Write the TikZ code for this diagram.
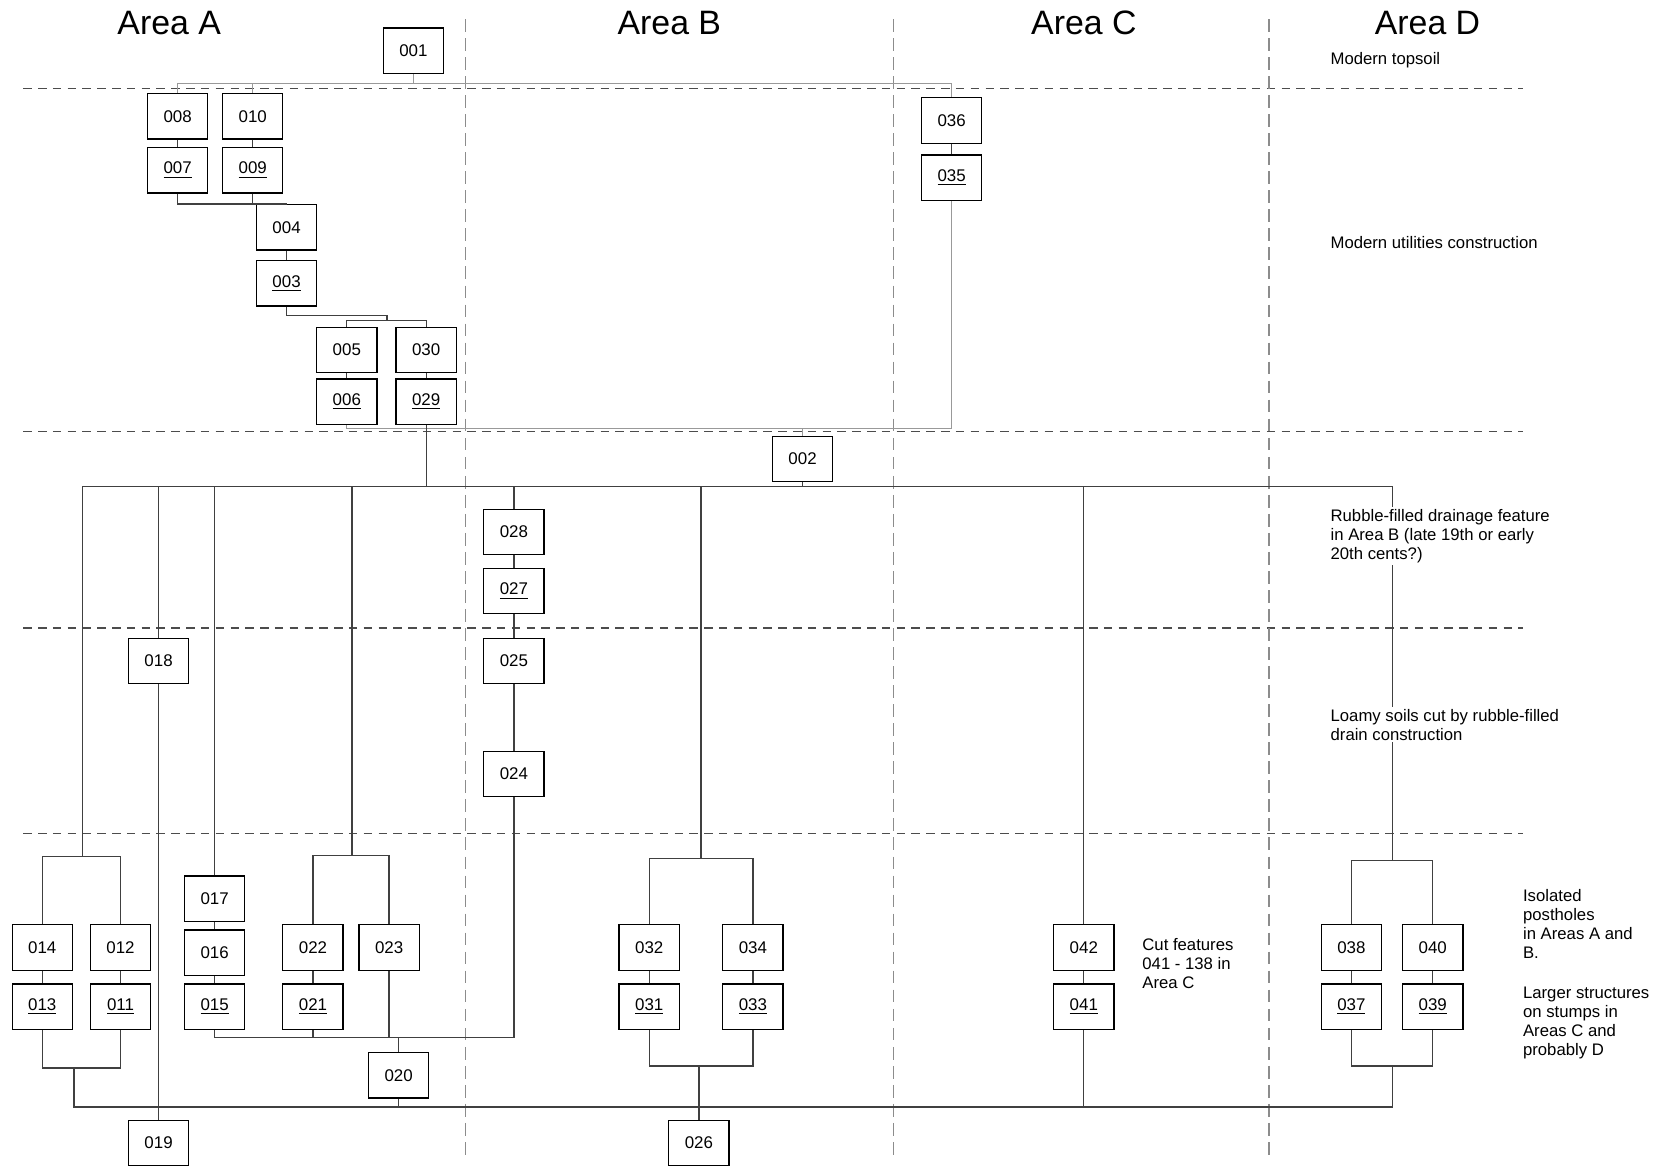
\documentclass[tikz,border=0pt]{standalone}
\usepackage{fontspec}
\setmainfont{Liberation Sans}
\usetikzlibrary{positioning}
\tikzset{
  ctx/.style = {draw=black, line width=0.6pt, rectangle, fill=white, minimum width=28.5pt, minimum height=21.5pt, inner sep=0pt, font=\fontsize{8}{9.6}\selectfont},
  link/.style = {draw=black!75, line width=0.6pt},
  util/.style = {draw=black!40, line width=0.6pt},
  phaseline/.style = {draw=black!70, line width=0.6pt, dash pattern=on 4pt off 3pt},
  arealine/.style = {draw=black!45, line width=0.6pt, dash pattern=on 6pt off 3pt},
  areatitle/.style = {font=\fontsize{16}{19}\selectfont},
  remark/.style = {anchor=north west, align=left, fill=white, inner sep=1pt, font=\fontsize{7.9}{9}\selectfont}
}

\begin{document}
\begin{tikzpicture}[x=0.5pt, y=-0.5pt]
            \useasboundingbox (0,0) rectangle (1568,1104);
            % phases and areas
            \foreach \yy in {84,408,594,788}
              \draw[phaseline] (22,\yy) -- (1440,\yy);
            \foreach \xx in {440,845,1200}
              \draw[arealine] (\xx,18) -- (\xx,1095);
            \node[areatitle] (tA) at (160,22) {Area A};
            \node[areatitle] (tB) at (633,22) {Area B};
            \node[areatitle] (tC) at (1025,22) {Area C};
            \node[areatitle] (tD) at (1350,22) {Area D};

            % contexts
            \node[ctx] (c001) at (391,48) {001};
            \node[ctx] (c008) at (168,110) {008};
            \node[ctx] (c010) at (239,110) {010};
            \node[ctx] (c007) at (168,161) {\underline{007}};
            \node[ctx] (c009) at (239,161) {\underline{009}};
            \node[ctx] (c004) at (271,215) {004};
            \node[ctx] (c003) at (271,268) {\underline{003}};
            \node[ctx] (c005) at (328,331) {005};
            \node[ctx] (c030) at (403,331) {030};
            \node[ctx] (c006) at (328,380) {\underline{006}};
            \node[ctx] (c029) at (403,380) {\underline{029}};
            \node[ctx] (c036) at (900,114) {036};
            \node[ctx] (c035) at (900,168) {\underline{035}};
            \node[ctx] (c002) at (759,434) {002};
            \node[ctx] (c028) at (486,503) {028};
            \node[ctx] (c027) at (486,559) {\underline{027}};
            \node[ctx] (c025) at (486,625) {025};
            \node[ctx] (c024) at (486,732) {024};
            \node[ctx] (c018) at (150,625) {018};
            \node[ctx] (c017) at (203,850) {017};
            \node[ctx] (c016) at (203,901) {016};
            \node[ctx] (c015) at (203,952) {\underline{015}};
            \node[ctx] (c014) at (40,896) {014};
            \node[ctx] (c012) at (114,896) {012};
            \node[ctx] (c013) at (40,952) {\underline{013}};
            \node[ctx] (c011) at (114,952) {\underline{011}};
            \node[ctx] (c022) at (296,896) {022};
            \node[ctx] (c023) at (368,896) {023};
            \node[ctx] (c021) at (296,952) {\underline{021}};
            \node[ctx] (c020) at (377,1017) {020};
            \node[ctx] (c019) at (150,1081) {019};
            \node[ctx] (c032) at (614,896) {032};
            \node[ctx] (c034) at (712,896) {034};
            \node[ctx] (c031) at (614,952) {\underline{031}};
            \node[ctx] (c033) at (712,952) {\underline{033}};
            \node[ctx] (c026) at (661,1081) {026};
            \node[ctx] (c042) at (1025,896) {042};
            \node[ctx] (c041) at (1025,952) {\underline{041}};
            \node[ctx] (c038) at (1278,896) {038};
            \node[ctx] (c040) at (1355,896) {040};
            \node[ctx] (c037) at (1278,952) {\underline{037}};
            \node[ctx] (c039) at (1355,952) {\underline{039}};

            % junctions
            \coordinate (top) at (391,79);
            \coordinate (j003) at (366,303);
            \coordinate (low) at (900,405);
            \coordinate (busl) at (78,460);
            \coordinate (busr) at (1317,460);
            \coordinate (k014) at (78,810);
            \coordinate (k022) at (333,809);
            \coordinate (k032) at (663,812);
            \coordinate (k038) at (1317,814);
            \coordinate (m020) at (377,981);
            \coordinate (p013) at (70,1010);
            \coordinate (p031) at (661,1008);
            \coordinate (p037) at (1317,1008);
            \coordinate (basel) at (70,1047);
            \coordinate (baser) at (1317,1047);

            % modern
            \draw[util] (c001) -- (top);
            \draw[util] (c008) |- (top) -| (c036);
            \draw[util] (c010) -- (c010 |- top);
            \draw[link] (c008) -- (c007);
            \draw[link] (c010) -- (c009);
            \draw[link] (c036) -- (c035);
            \draw[link] (c007) |- (c004.north);
            \draw[link] (c009) -- (c009 |- c004.north);
            \draw[link] (c004) -- (c003);
            \draw[link] (c003.south) -- ++(0,8) -| (j003);
            \draw[link] (c005) |- (j003) -| (c030);
            \draw[link] (c005) -- (c006);
            \draw[link] (c030) -- (c029);
            \draw[util] (c006) |- (low) -- (c035);
            \draw[util] (c002) -- (c002 |- low);

            % drainage
            \draw[link] (busl) -- (busr);
            \draw[link] (c029) -- (c029 |- busl);
            \draw[link] (c002) -- (c002 |- busl);
            \draw[link] (busl) -- (k014);
            \draw[link] (c014) |- (k014) -| (c012);
            \draw[link] (c018) -- (c018 |- busl);
            \draw[link] (c017) -- (c017 |- busl);
            \draw[link] (k022) -- (k022 |- busl);
            \draw[link] (c022) |- (k022) -| (c023);
            \draw[link] (c028) -- (c028 |- busl);
            \draw[link] (k032) -- (k032 |- busl);
            \draw[link] (c032) |- (k032) -| (c034);
            \draw[link] (c042) -- (c042 |- busl);
            \draw[link] (busr) -- (k038);
            \draw[link] (c038) |- (k038) -| (c040);
            \draw[link] (c028) -- (c027) -- (c025) -- (c024);

            % lower
            \draw[link] (c014) -- (c013);
            \draw[link] (c012) -- (c011);
            \draw[link] (c017) -- (c016) -- (c015);
            \draw[link] (c022) -- (c021);
            \draw[link] (c032) -- (c031);
            \draw[link] (c034) -- (c033);
            \draw[link] (c042) -- (c041);
            \draw[link] (c038) -- (c037);
            \draw[link] (c040) -- (c039);
            \draw[link] (c024) |- (m020) -| (c015);
            \draw[link] (c021) -- (c021 |- m020);
            \draw[link] (c023) -- (c023 |- m020);
            \draw[link] (c020) -- (m020);
            \draw[link] (c018) -- (c019);
            \draw[link] (c013) |- (p013) -| (c011);
            \draw[link] (p013) -- (basel) -- (baser) -- (p037);
            \draw[link] (c037) |- (p037) -| (c039);
            \draw[link] (c020) -- (c020 |- basel);
            \draw[link] (c041) -- (c041 |- basel);
            \draw[link] (c031) |- (p031) -| (c033);
            \draw[link] (p031) -- (c026);

            % remarks
            \node[remark, anchor=west] (rTop) at (1256,57) {Modern topsoil};
            \node[remark, anchor=west] (rUtil) at (1256,229) {Modern utilities construction};
            \node[remark] (rDrain) at (1256,479) {Rubble-filled drainage feature\\in Area B (late 19th or early\\20th cents?)};
            \node[remark] (rLoam) at (1256,668) {Loamy soils cut by rubble-filled\\drain construction};
            \node[remark] (rCut) at (1078,885) {Cut features\\041 - 138 in\\Area C};
            \node[remark] (rPost) at (1438,839) {Isolated\\postholes\\in Areas A and\\B.};
            \node[remark] (rLarge) at (1438,931) {Larger structures\\on stumps in\\Areas C and\\probably D};
        \end{tikzpicture}
\end{document}
